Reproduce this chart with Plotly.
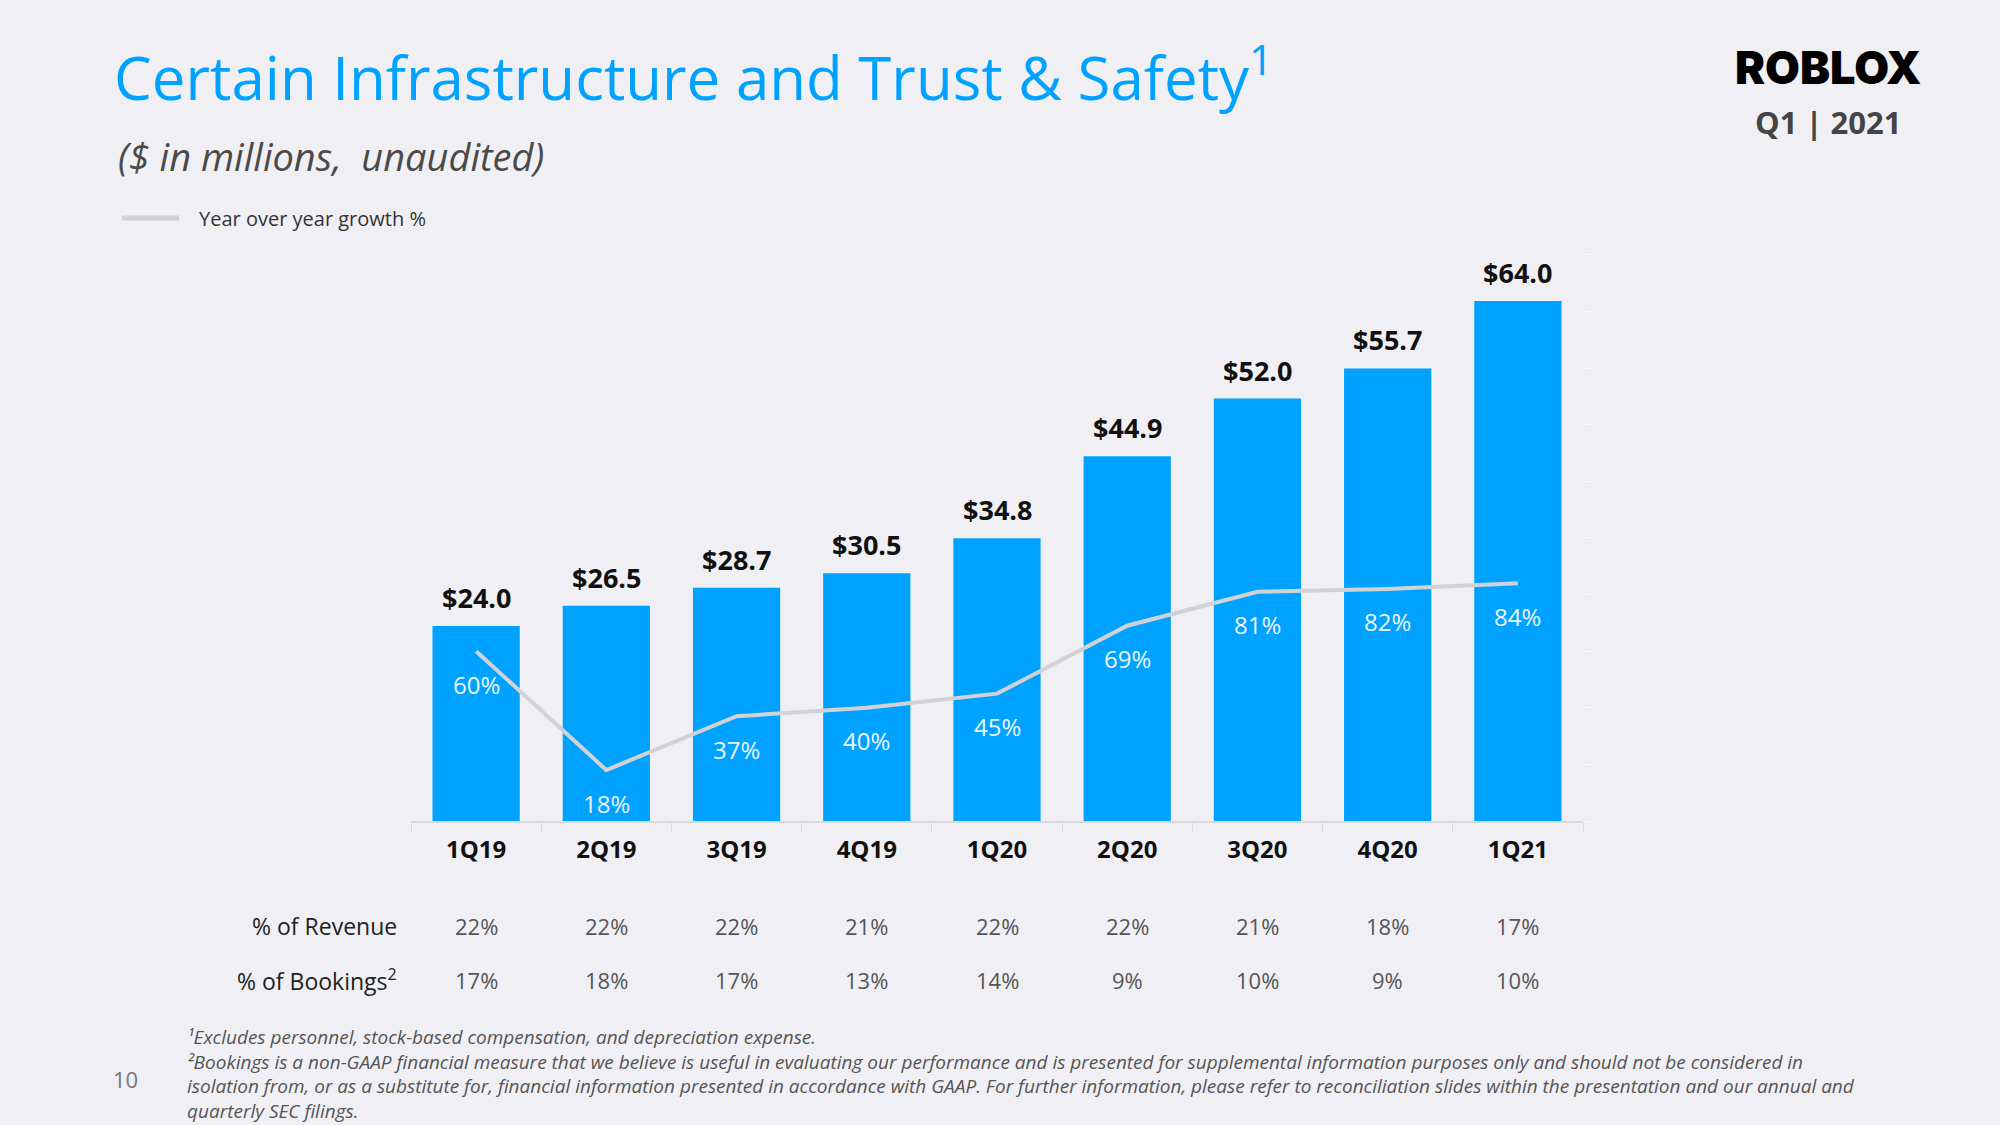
import plotly.graph_objects as go

# ---- data ----
quarters = ["1Q19", "2Q19", "3Q19", "4Q19", "1Q20", "2Q20", "3Q20", "4Q20", "1Q21"]
spend = [24.0, 26.5, 28.7, 30.5, 34.8, 44.9, 52.0, 55.7, 64.0]
yoy_growth = [60, 18, 37, 40, 45, 69, 81, 82, 84]
pct_revenue = [22, 22, 22, 21, 22, 22, 21, 18, 17]
pct_bookings = [17, 18, 17, 13, 14, 9, 10, 9, 10]

# ---- layout geometry (pixels) ----
W, H = 2000, 1125
L, R, T, B = 411, 1583, 245, 821


def px(x):
    return (x - L) / (R - L)


def py(y):
    return (B - y) / (B - T)


FONT = "Open Sans"
BLUE = "#00a2ff"
BG = "#f0f0f4"

fig = go.Figure()
fig.add_bar(
    x=quarters, y=spend, marker_color=BLUE, marker_line_width=0, width=0.67,
    showlegend=False, hoverinfo="x+y",
)
fig.add_scatter(
    x=quarters, y=yoy_growth, yaxis="y2", mode="lines",
    line=dict(color="#d2d2d6", width=4), showlegend=False, name="Year over year growth %",
)

ann = []
# value labels above bars
for q, v in zip(quarters, spend):
    ann.append(dict(x=q, y=v, xref="x", yref="y", text=f"${v:.1f}", showarrow=False,
                    yanchor="bottom", yshift=8,
                    font=dict(family=FONT, size=27, color="#111111", weight="bold")))
# growth labels inside bars
for q, g in zip(quarters, yoy_growth):
    ann.append(dict(x=q, y=g, xref="x", yref="y2", text=f"{g}%", showarrow=False,
                    yanchor="middle", yshift=-33,
                    font=dict(family=FONT, size=24, color="#eaf6ff")))
# table rows
for q, r_, b_ in zip(quarters, pct_revenue, pct_bookings):
    ann.append(dict(x=q, y=py(926), xref="x", yref="paper", text=f"{r_}%", showarrow=False,
                    yanchor="middle", font=dict(family=FONT, size=22, color="#555555")))
    ann.append(dict(x=q, y=py(980), xref="x", yref="paper", text=f"{b_}%", showarrow=False,
                    yanchor="middle", font=dict(family=FONT, size=22, color="#555555")))
ann.append(dict(x=px(399), y=py(926), xref="paper", yref="paper", text="% of Revenue",
                showarrow=False, xanchor="right", yanchor="middle",
                font=dict(family=FONT, size=23, color="#222222")))
ann.append(dict(x=px(399), y=py(980), xref="paper", yref="paper", text="% of Bookings<sup>2</sup>",
                showarrow=False, xanchor="right", yanchor="middle",
                font=dict(family=FONT, size=23, color="#222222")))

# title, subtitle, legend text
ann.append(dict(x=px(112), y=py(74), xref="paper", yref="paper",
                text="Certain Infrastructure and Trust & Safety<sup>1</sup>", showarrow=False,
                xanchor="left", yanchor="middle", font=dict(family=FONT, size=60, color=BLUE)))
ann.append(dict(x=px(116), y=py(156), xref="paper", yref="paper",
                text="<i>($ in millions,  unaudited)</i>", showarrow=False,
                xanchor="left", yanchor="middle", font=dict(family=FONT, size=38, color="#4a4a4a")))
ann.append(dict(x=px(197), y=py(218), xref="paper", yref="paper",
                text="Year over year growth %", showarrow=False,
                xanchor="left", yanchor="middle", font=dict(family=FONT, size=20, color="#333333")))

# logo
ann.append(dict(x=px(1828), y=py(67), xref="paper", yref="paper", text="ROBLOX", showarrow=False,
                xanchor="center", yanchor="middle",
                font=dict(family="Inter", size=45, color="#000000", weight=900)))
ann.append(dict(x=px(1828), y=py(122), xref="paper", yref="paper", text="Q1 | 2021", showarrow=False,
                xanchor="center", yanchor="middle",
                font=dict(family=FONT, size=31, color="#444444", weight="bold")))

# page number
ann.append(dict(x=px(125), y=py(1079), xref="paper", yref="paper", text="10", showarrow=False,
                xanchor="center", yanchor="middle", font=dict(family=FONT, size=22, color="#777777")))

# footnotes (one block)
foot = [
    "¹Excludes personnel, stock-based compensation, and depreciation expense.",
    "²Bookings is a non-GAAP financial measure that we believe is useful in evaluating our performance and is presented for supplemental information purposes only and should not be considered in",
    "isolation from, or as a substitute for, financial information presented in accordance with GAAP. For further information, please refer to reconciliation slides within the presentation and our annual and",
    "quarterly SEC filings.",
]
ann.append(dict(x=px(185), y=py(1022), xref="paper", yref="paper",
                text="<i>" + "<br>".join(foot) + "</i>", showarrow=False,
                xanchor="left", yanchor="top", align="left",
                font=dict(family=FONT, size=19, color="#555555")))

shapes = [
    dict(type="line", xref="paper", yref="paper", x0=px(122), x1=px(179), y0=py(218), y1=py(218),
         line=dict(color="#d2d2d6", width=5)),
]

fig.update_layout(
    width=W, height=H,
    margin=dict(l=L, r=W - R, t=T, b=H - B, autoexpand=False),
    paper_bgcolor=BG, plot_bgcolor=BG,
    bargap=0.33,
    annotations=ann, shapes=shapes,
    showlegend=False,
    xaxis=dict(type="category", range=[-0.5, 8.5], showgrid=False, zeroline=False,
               showline=True, linecolor="#d9d9dc", linewidth=2,
               ticks="outside", tickson="boundaries", ticklen=9, tickcolor="#d9d9dc", tickwidth=1,
               ticklabelstandoff=6,
               tickfont=dict(family=FONT, size=24, color="#111111", weight="bold")),
    yaxis=dict(range=[0, 70.9], visible=False, fixedrange=True),
    yaxis2=dict(range=[0, 203.5], overlaying="y", side="right", showgrid=False, zeroline=False,
                showticklabels=False, showline=False, ticks="outside", ticklen=8,
                tickcolor="#fbfbfd", tick0=0, dtick=20),
)

fig.write_html(
    "out.html",
    config={"displayModeBar": False},
    post_script="document.body.style.margin='0';document.body.style.background='#f0f0f4';"
                "document.body.style.overflow='hidden';",
)
